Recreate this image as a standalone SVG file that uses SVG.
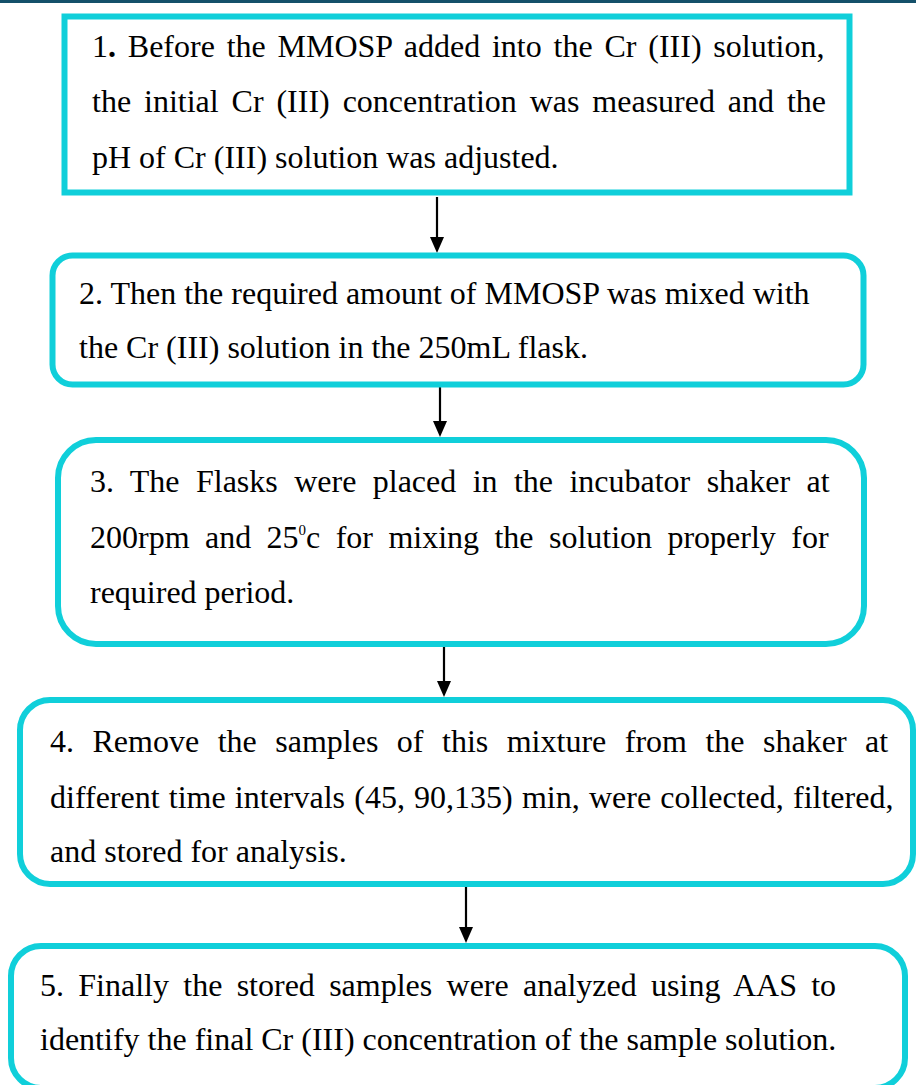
<svg xmlns="http://www.w3.org/2000/svg" width="916" height="1085" viewBox="0 0 916 1085">
<style>
.box{fill:#ffffff;stroke:#10CFDA;stroke-width:6}
.t{font-family:"Liberation Serif","Times New Roman",serif;font-size:32px;fill:#000000}
.c{stroke:#000000;stroke-width:2.2;fill:none}
.h{fill:#000000}
</style>
<rect x="0" y="0" width="916" height="3" fill="#14506A"/>
<g id="connectors">
<path class="c" d="M437 197 L437 240"/><path class="h" d="M430 237 L444 237 L437 253 Z"/>
<path class="c" d="M440 387 L440 424"/><path class="h" d="M433 421 L447 421 L440 437 Z"/>
<path class="c" d="M441 641 L441 634 L444 634 L444 684"/><path class="h" d="M437 681 L451 681 L444 697 Z"/>
<path class="c" d="M466 887 L466 930"/><path class="h" d="M459 927 L473 927 L466 943 Z"/>
</g>
<g id="node1">
<rect class="box" x="64.5" y="16.5" width="785" height="176" stroke-width="7"/>
<text class="t" x="92" y="57" word-spacing="3.8">1<tspan font-weight="bold">.</tspan> Before the MMOSP added into the Cr (III) solution,</text>
<text class="t" x="92" y="112" word-spacing="4.9">the initial Cr (III) concentration was measured and the</text>
<text class="t" x="92" y="168">pH of Cr (III) solution was adjusted.</text>
</g>
<g id="node2">
<rect class="box" x="52.5" y="255.5" width="811" height="129" rx="20" stroke-width="5"/>
<text class="t" x="79" y="304">2. Then the required amount of MMOSP was mixed with</text>
<text class="t" x="79" y="358">the Cr (III) solution in the 250mL flask.</text>
</g>
<g id="node3">
<rect class="box" x="58" y="440" width="806" height="204" rx="38"/>
<text class="t" x="90" y="492" word-spacing="8.4">3. The Flasks were placed in the incubator shaker at</text>
<text class="t" x="90" y="548" word-spacing="7.4">200rpm and 25<tspan font-size="15" dy="-13">0</tspan><tspan dy="13">c for mixing the solution properly for</tspan></text>
<text class="t" x="90" y="603">required period.</text>
</g>
<g id="node4">
<rect class="box" x="20" y="700" width="893" height="184" rx="30"/>
<text class="t" x="50" y="752" word-spacing="10.5">4. Remove the samples of this mixture from the shaker at</text>
<text class="t" x="50" y="808" word-spacing="1.2">different time intervals (45, 90,135) min, were collected, filtered,</text>
<text class="t" x="50" y="862">and stored for analysis.</text>
</g>
<g id="node5">
<rect class="box" x="11" y="946" width="894" height="142" rx="30"/>
<text class="t" x="40" y="996" word-spacing="6.3">5. Finally the stored samples were analyzed using AAS to</text>
<text class="t" x="40" y="1050">identify the final Cr (III) concentration of the sample solution.</text>
</g>
</svg>
